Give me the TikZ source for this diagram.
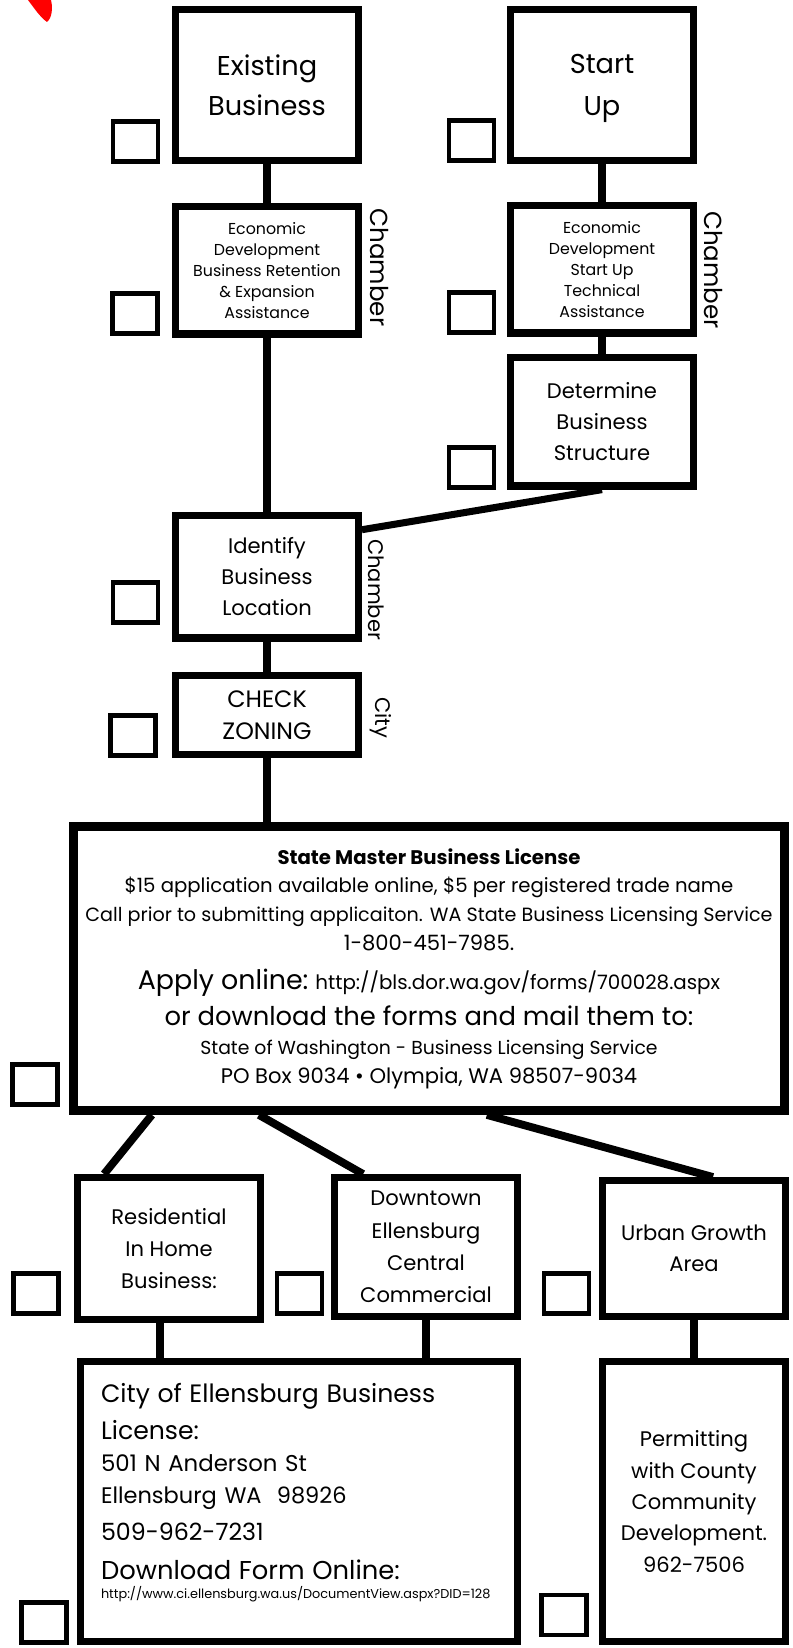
\documentclass[tikz,border=0pt]{standalone}
\usepackage{fontspec}
\setmainfont{Poppins}
\usepackage{tikz}
\usetikzlibrary{
  calc,
  positioning
}
\newcommand{\fsz}[2]{\fontsize{#1}{#2}\selectfont}

\begin{document}
\begin{tikzpicture}[
  x=0.02cm, y=-0.02cm,
  stepbox/.style={draw, line width=4.2pt, minimum width=3.65cm, align=center, inner sep=0pt},
  checkbox/.style={draw, line width=2.8pt, minimum width=0.9cm, minimum height=0.8cm, inner sep=0pt},
  sidelabel/.style={rotate=-90, font=\fsz{14}{16}, inner sep=0pt},
  link/.style={line width=4pt},
  node distance=0.4cm
]
  \useasboundingbox (0,0) rectangle (793,1648);

  % red mark
  \fill[red] (28,0) .. controls (34,8) and (40,17) .. (47,22) .. controls (52,18) and (53,8) .. (51,0) -- cycle;

  % Existing business side
  \node[stepbox, minimum height=3.01cm, font=\fsz{15.5}{22.7}] (exist) at (267,85) {Existing\\Business};
  \node[stepbox, minimum height=2.55cm, font=\fsz{9}{11.9}, below=0.78cm of exist] (econret)
    {Economic\\Development\\Business Retention\\\& Expansion\\Assistance};
  \node[stepbox, minimum height=2.45cm, font=\fsz{12}{17.6}, below=3.48cm of econret] (location)
    {Identify\\Business\\Location};
  \node[stepbox, minimum height=1.59cm, font=\fsz{13.5}{18.1}, below=0.6cm of location] (zoning)
    {CHECK\\ZONING};

  % Start up side
  \node[stepbox, minimum height=3.01cm, text depth=-2pt, font=\fsz{15.5}{23.5}] (startup) at (602,85) {Start\\Up};
  \node[stepbox, minimum height=2.55cm, font=\fsz{9}{11.9}, below=0.76cm of startup] (econstart)
    {Economic\\Development\\Start Up\\Technical\\Assistance};
  \node[stepbox, minimum height=2.57cm, font=\fsz{12}{17.6}, below=0.34cm of econstart] (structure)
    {Determine\\Business\\Structure};

  % Who to see
  \node[sidelabel] (chamber1) at (379.5,267.5) {Chamber};
  \node[sidelabel] (chamber2) at (713.5,270) {Chamber};
  \node[sidelabel, font=\fsz{12}{14}] (chamber3) at (376,589.5) {Chamber};
  \node[sidelabel, font=\fsz{12}{14}] (city) at (381,718) {City};

  % State license
  \node[stepbox, line width=5pt, minimum width=14.21cm, minimum height=5.68cm, font=\fsz{11}{16.4}] (state) at (429,968.5)
    {{\fsz{11.2}{16.4}\bfseries State Master Business License}\\
     {\fsz{11.2}{16.4}\$15 application available online, \$5 per registered trade name}\\
     {\fsz{10.9}{16.4}Call prior to submitting applicaiton. WA State Business Licensing Service}\\
     {\fsz{12}{16.4}1-800-451-7985.}\\[6pt]
     {\fsz{15.3}{16.4}Apply online:} {\fsz{11.3}{16.4}http://bls.dor.wa.gov/forms/700028.aspx}\\[4pt]
     {\fsz{14.7}{16.4}or download the forms and mail them to:}\\
     {\fsz{10.7}{16.4}State of Washington - Business Licensing Service}\\
     {\fsz{12}{16.4}PO Box 9034 • Olympia, WA 98507-9034}};

  % Zones
  \node[stepbox, minimum height=2.83cm, font=\fsz{12}{18.4}] (residential) at (169,1248.5)
    {Residential\\In Home\\Business:};
  \node[stepbox, minimum height=2.77cm, font=\fsz{12}{18.4}] (downtown) at (426,1247)
    {Downtown\\Ellensburg\\Central\\Commercial};
  \node[stepbox, minimum height=2.71cm, text depth=0pt, font=\fsz{12}{17.6}] (urban) at (694,1248.5)
    {Urban Growth\\Area};

  % Licenses
  \node[stepbox, minimum width=8.73cm, minimum height=5.59cm, text width=7.92cm, align=left, font=\fsz{13}{18.1}] (cityoffice) at (299,1501.5)
    {{\fsz{14.3}{18.1}City of Ellensburg Business}\\[3.4pt]
     {\fsz{14.3}{18.1}License:}\\
     501 N Anderson St\\
     {\fsz{12.8}{18.1}Ellensburg WA~~98926}\\[3pt]
     {\fsz{13.5}{18.1}509-962-7231}\\[4pt]
     {\fsz{14.7}{18.1}Download Form Online:}\\[-7pt]
     {\fsz{7.3}{10}http://www.ci.ellensburg.wa.us/DocumentView.aspx?DID=128\rule[-12pt]{0pt}{0pt}}};
  \node[stepbox, minimum height=5.59cm, font=\fsz{12}{17.9}] (county) at (694,1501.5)
    {Permitting\\with County\\Community\\Development.\\962-7506};

  % Check boxes
  \node[checkbox] (cb1) at (135.5,141.5) {};
  \node[checkbox] (cb2) at (135,313.5) {};
  \node[checkbox] (cb3) at (471.5,140.5) {};
  \node[checkbox] (cb4) at (471.5,312.5) {};
  \node[checkbox] (cb5) at (471.5,467.5) {};
  \node[checkbox] (cb6) at (135.5,602.5) {};
  \node[checkbox] (cb7) at (133,735.5) {};
  \node[checkbox] (cb8) at (35,1084.5) {};
  \node[checkbox] (cb9) at (36,1293.5) {};
  \node[checkbox] (cb10) at (299.5,1293.5) {};
  \node[checkbox] (cb11) at (566.5,1293.5) {};
  \node[checkbox] (cb12) at (44,1622.5) {};
  \node[checkbox] (cb13) at (564,1615) {};

  % Connectors
  \draw[link] (exist) -- (econret);
  \draw[link] (econret) -- (location);
  \draw[link] (location) -- (zoning);
  \draw[link] (zoning.south) -- (zoning.south |- state.north);
  \draw[link] (startup) -- (econstart);
  \draw[link] (econstart) -- (structure);
  \draw[link] (structure.south) -- ([yshift=-0.36cm]location.north east);

  \draw[link, line width=4.5pt] ([xshift=1.65cm]state.south west) -- ([xshift=0.6cm]residential.north west);
  \draw[link, line width=4.5pt] ([xshift=3.79cm]state.south west) -- ([xshift=0.64cm]downtown.north west);
  \draw[link, line width=4.5pt] ([xshift=8.35cm]state.south west) -- ([xshift=0.38cm]urban.north);
  \draw[link] ([xshift=-0.18cm]residential.south) -- ([xshift=-0.18cm]residential.south |- cityoffice.north);
  \draw[link] (downtown.south) -- (downtown.south |- cityoffice.north);
  \draw[link] (urban) -- (county);

\end{tikzpicture}
\end{document}
